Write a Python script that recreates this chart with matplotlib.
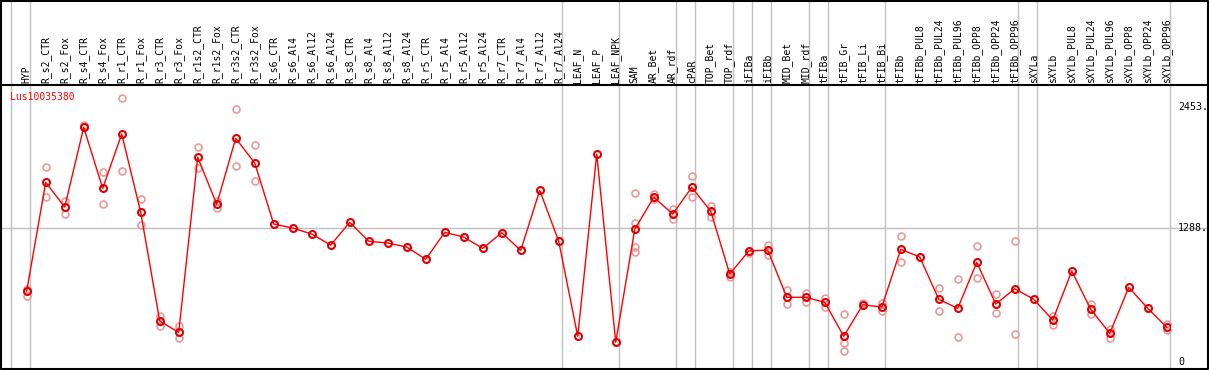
import matplotlib
matplotlib.use('Agg')
import matplotlib.pyplot as plt
from matplotlib.transforms import blended_transform_factory
from matplotlib.lines import Line2D

# column labels (one per sample)
labels = ['HYP', 'R_s2_CTR', 'R_s2_Fox', 'R_s4_CTR', 'R_s4_Fox', 'R_r1_CTR', 'R_r1_Fox',
	'R_r3_CTR', 'R_r3_Fox', 'R_r1s2_CTR', 'R_r1s2_Fox', 'R_r3s2_CTR', 'R_r3s2_Fox',
	'R_s6_CTR', 'R_s6_Al4', 'R_s6_Al12', 'R_s6_Al24', 'R_s8_CTR', 'R_s8_Al4', 'R_s8_Al12',
	'R_s8_Al24', 'R_r5_CTR', 'R_r5_Al4', 'R_r5_Al12', 'R_r5_Al24', 'R_r7_CTR', 'R_r7_Al4',
	'R_r7_Al12', 'R_r7_Al24', 'LEAF_N', 'LEAF_P', 'LEAF_NPK', 'SAM', 'AR_Bet', 'AR_rdf',
	'cPAR', 'TOP_Bet', 'TOP_rdf', 'iFIBa', 'iFIBb', 'MID_Bet', 'MID_rdf', 'tFIBa',
	'tFIB_Gr', 'tFIB_Li', 'tFIB_Bi', 'tFIBb', 'tFIBb_PUL8', 'tFIBb_PUL24', 'tFIBb_PUL96',
	'tFIBb_OPP8', 'tFIBb_OPP24', 'tFIBb_OPP96', 'sXYLa', 'sXYLb', 'sXYLb_PUL8',
	'sXYLb_PUL24', 'sXYLb_PUL96', 'sXYLb_OPP8', 'sXYLb_OPP24', 'sXYLb_OPP96']

# mean expression per sample
means = [685, 1731, 1493, 2260, 1673, 2196, 1442, 396, 287, 1972, 1519, 2155, 1917,
	1330, 1291, 1233, 1127, 1346, 1163, 1147, 1108, 990, 1250, 1204, 1095, 1246, 1076,
	1654, 1163, 248, 2004, 191, 1279, 1587, 1426, 1683, 1452, 848, 1070, 1079, 624, 624,
	576, 248, 553, 530, 1086, 1012, 605, 518, 961, 559, 707, 605, 405, 877, 508, 277,
	720, 518, 335]

# replicate values per sample
replicates = [[704, 639, 685], [1875, 1587], [1554, 1429], [2286, 2271], [1827, 1519],
	[2540, 1840], [1570, 1317], [447, 350], [345, 235], [2068, 1866], [1554, 1487],
	[2434, 1885], [2087, 1741], [], [], [], [], [], [], [], [], [], [], [], [], [], [], [],
	[], [], [], [], [1625, 1336, 1111, 1063], [1615, 1567], [1477, 1378], [1789, 1587],
	[1503, 1400], [870, 822], [1053], [1130, 1031], [694, 556], [668, 582], [617, 534],
	[460, 181, 107], [570], [572, 489], [1214, 961], [], [711, 492], [797, 242],
	[1118, 807], [653, 470], [1163, 268], [], [444, 357], [], [559, 460], [316, 235],
	[], [], [367, 309]]

# last column of each group (separator drawn after it)
group_ends = [-1, 0, 28, 31, 34, 35, 37, 38, 39, 41, 42, 45, 52, 53, 60]

y_ticks = [2453, 1288, 0]
y_tick_labels = ['2453.', '1288.', '0']
title = 'Lus10035380'

W, H = 1209, 370
GRAY = '#c0c0c0'
FONT = 'DejaVu Sans Mono'

fig = plt.figure(figsize=(W / 100, H / 100), dpi=100)
ax = fig.add_axes([1 / W, 1 / H, 1169 / W, 284 / H])
ax.set_xlim(-1.353, 60.17)
ax.set_ylim(-66, 2668)
ax.axis('off')

bx = blended_transform_factory(ax.transData, ax.transAxes)
by = blended_transform_factory(ax.transAxes, ax.transData)
top = 369 / 284.0
right = 1207 / 1169.0

# group separators, full height
for g in group_ends:
	ax.plot([g + 0.18, g + 0.18], [0, top], color=GRAY, lw=1, transform=bx, clip_on=False, zorder=1)

# grid line at the middle tick
ax.plot([0, right], [1288, 1288], color=GRAY, lw=1, transform=by, clip_on=False, zorder=1)

# replicates
for i in range(len(replicates)):
	for v in replicates[i]:
		ax.plot(i, v, 'o', ms=5, mfc='none', mec='#e99a9a', mew=1.2, zorder=2, clip_on=False)

xs = list(range(len(means)))
ax.plot(xs, means, color='#ff0000', lw=1, zorder=3)
ax.plot(xs, means, 'o', ms=5, mfc='none', mec='#e00000', mew=1.5, zorder=4)

# column labels in header
for i in range(len(labels)):
	ax.text(i, 1.006, labels[i], rotation=90, ha='center', va='bottom', fontsize=7,
		family=FONT, transform=bx, clip_on=False)

ax.text(9 / 1169.0, (369 - 97) / 284.0, title, color='#ff0000', fontsize=7, family=FONT,
	ha='left', va='center', transform=ax.transAxes)

for v, t in zip(y_ticks, y_tick_labels):
	ax.text(1177 / 1169.0, v, t, fontsize=7.2, family=FONT, ha='left', va='center',
		transform=by, clip_on=False)

# black frame and header line
fig.add_artist(Line2D([1 / W, 1208 / W, 1208 / W, 1 / W, 1 / W],
	[1 - 0.5 / H, 1 - 0.5 / H, 1 / H, 1 / H, 1 - 0.5 / H], color='black', lw=1.5, transform=fig.transFigure))
fig.add_artist(Line2D([1 / W, 1208 / W], [(H - 85) / H, (H - 85) / H], color='black', lw=1.5,
	transform=fig.transFigure))

fig.savefig('out.png', dpi=100)
